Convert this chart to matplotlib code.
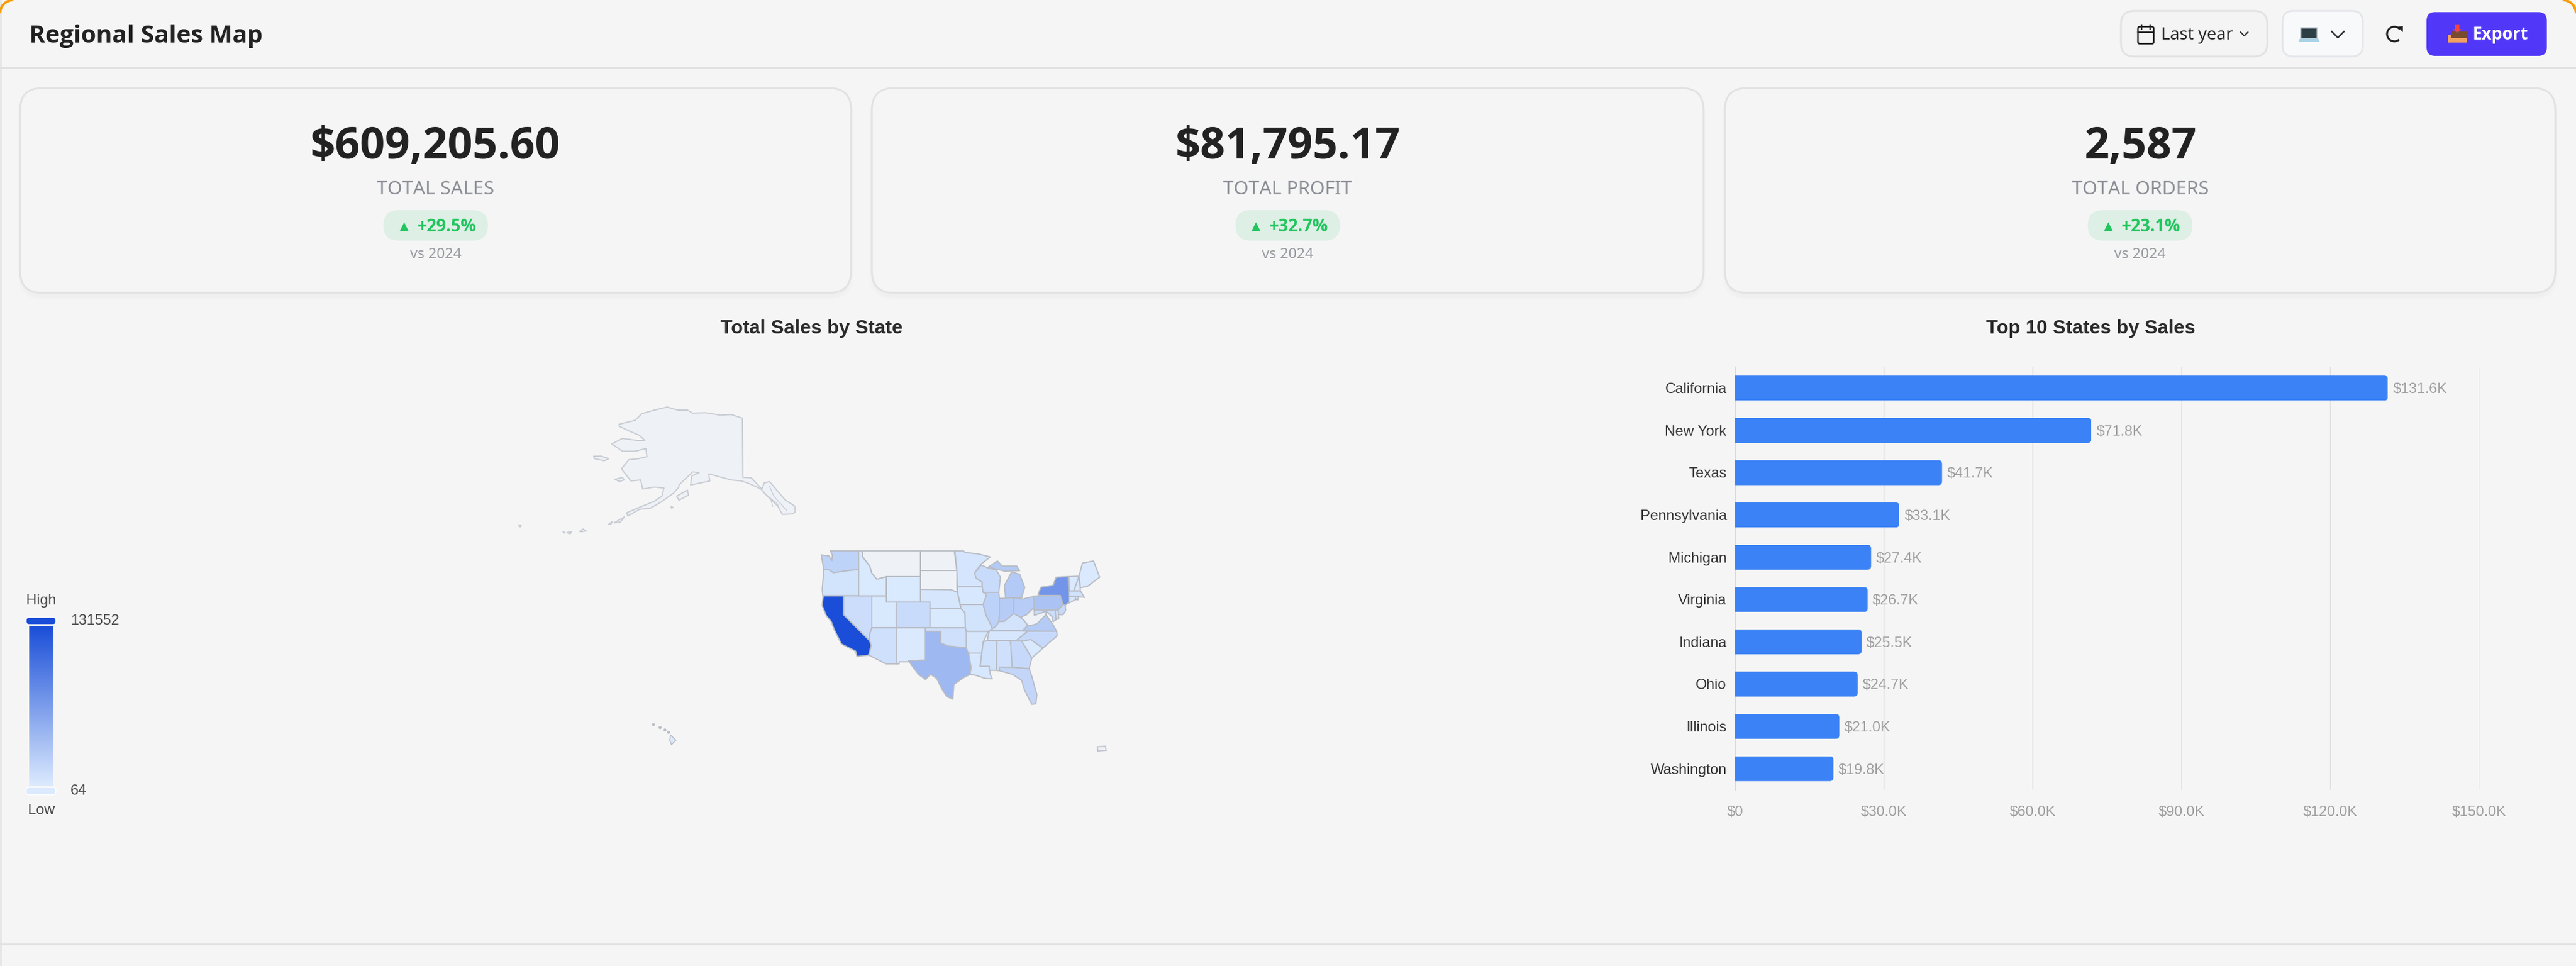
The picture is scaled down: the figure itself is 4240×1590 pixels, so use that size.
import numpy as np
import matplotlib
matplotlib.use("Agg")
import matplotlib.pyplot as plt
from matplotlib.colors import LinearSegmentedColormap, Normalize
from matplotlib.patches import FancyBboxPatch, Polygon, Rectangle, Arc
from matplotlib.transforms import IdentityTransform

# ---------- data ----------
title = "Regional Sales Map"
kpi_values = ["$609,205.60", "$81,795.17", "2,587"]
kpi_labels = ["TOTAL SALES", "TOTAL PROFIT", "TOTAL ORDERS"]
kpi_deltas = ["+29.5%", "+32.7%", "+23.1%"]
kpi_note = "vs 2024"

top_states = ["California", "New York", "Texas", "Pennsylvania", "Michigan",
              "Virginia", "Indiana", "Ohio", "Illinois", "Washington"]
top_sales = [131552, 71800, 41700, 33100, 27400, 26700, 25500, 24700, 21000, 19800]
x_ticks = [0, 30000, 60000, 90000, 120000, 150000]
x_labels = ["$0", "$30.0K", "$60.0K", "$90.0K", "$120.0K", "$150.0K"]

legend_min, legend_max = 64, 131552

state_sales = {
    "CA": 131552, "NY": 71800, "TX": 41700, "PA": 33100, "MI": 27400, "VA": 26700,
    "IN": 25500, "OH": 24700, "IL": 21000, "WA": 19800, "FL": 17000, "GA": 14000,
    "NC": 14000, "WI": 13000, "CO": 13000, "NJ": 14000, "NV": 11000, "AL": 9000,
    "MS": 7500, "AZ": 8500, "OK": 9000, "OR": 6500, "MD": 11000, "DE": 9000,
    "MA": 7000, "MO": 6500, "MN": 4500, "KY": 6000, "TN": 3500, "AR": 4000,
    "NE": 3500, "UT": 2500, "IA": 3000, "KS": 1500, "SC": 1500, "LA": 3000,
    "NM": 900, "WY": 1500, "ID": 1200, "ME": 1000, "NH": 1200, "VT": 900,
    "CT": 3500, "RI": 1500, "HI": 500,
}
no_data_states = ["AK", "MT", "ND", "SD", "WV", "PR"]

# ---------- outlines (in the crop coordinates of each map panel) ----------
conus = {
 "WA": [(95,100),(133,105),(148,128),(150,100),(140,80),(280,80),(280,172),(225,178),(155,188),(130,172),(108,172)],
 "OR": [(108,172),(130,172),(155,188),(225,178),(280,172),(280,302),(103,302),(100,270)],
 "NV": [(205,302),(345,302),(345,460),(333,495),(335,525),(205,395)],
 "CA": [(105,302),(205,302),(205,395),(335,525),(342,548),(330,595),(272,602),(265,575),(195,540),(160,470),(145,430),(120,400),(100,350)],
 "ID": [(280,80),(300,80),(300,110),(335,155),(345,190),(370,220),(416,207),(416,302),(280,302)],
 "MT": [(300,80),(585,80),(585,207),(416,207),(370,220),(345,190),(335,155),(300,110)],
 "WY": [(416,207),(585,207),(585,333),(416,333)],
 "UT": [(345,302),(416,302),(416,333),(466,333),(466,460),(345,460)],
 "CO": [(466,333),(632,333),(632,460),(466,460)],
 "AZ": [(345,460),(466,460),(466,638),(415,638),(330,595),(342,548),(335,525),(333,495)],
 "NM": [(466,460),(610,460),(610,620),(525,622),(525,628),(480,628),(480,638),(466,638)],
 "ND": [(585,80),(752,80),(765,177),(585,177)],
 "SD": [(585,177),(765,177),(765,255),(768,285),(735,272),(585,270)],
 "NE": [(585,270),(735,272),(768,285),(785,365),(632,365),(632,333),(585,333)],
 "KS": [(632,365),(785,365),(805,385),(807,460),(632,460)],
 "OK": [(610,460),(807,460),(812,478),(812,560),(770,555),(720,550),(685,535),(685,478),(610,478)],
 "TX": [(610,478),(685,478),(685,535),(720,550),(770,555),(812,560),(823,590),(835,655),(830,690),(800,705),(750,740),(745,812),(715,800),(690,760),(665,710),(635,690),(610,715),(575,690),(525,622),(610,620)],
 "MN": [(755,80),(797,80),(805,88),(870,95),(930,110),(885,145),(855,185),(860,215),(890,235),(890,257),(768,257),(765,177)],
 "IA": [(768,257),(890,257),(895,285),(912,295),(895,345),(782,345),(768,285)],
 "MO": [(782,345),(895,345),(910,400),(935,450),(940,465),(920,478),(812,478),(807,460),(805,385),(785,365)],
 "AR": [(812,478),(920,478),(895,530),(888,585),(828,585),(823,590),(812,560)],
 "LA": [(828,585),(888,585),(880,650),(925,650),(930,690),(940,712),(905,710),(860,695),(830,690),(835,655),(823,590)],
 "WI": [(885,150),(920,165),(960,175),(980,210),(972,285),(895,285),(890,257),(890,235),(860,215),(852,190)],
 "IL": [(895,285),(972,285),(975,315),(975,400),(972,430),(960,450),(940,465),(935,450),(910,400),(895,345),(912,295)],
 "MI": [(1005,312),(1000,250),(1035,185),(1075,195),(1100,260),(1085,312)],
 "IN": [(975,315),(1045,312),(1045,390),(1000,428),(972,430),(975,400)],
 "OH": [(1045,312),(1090,318),(1145,305),(1145,360),(1110,395),(1080,408),(1045,390)],
 "KY": [(940,465),(960,450),(972,430),(1000,428),(1045,390),(1080,408),(1098,425),(1115,447),(1090,475),(925,475)],
 "TN": [(925,475),(1115,475),(1060,522),(915,522)],
 "MS": [(915,522),(962,522),(960,670),(925,670),(925,650),(880,650),(888,585),(895,530)],
 "AL": [(962,522),(1030,522),(1038,655),(975,655),(975,672),(960,670)],
 "GA": [(1030,522),(1085,525),(1135,610),(1122,662),(1038,655)],
 "FL": [(975,655),(1038,655),(1122,662),(1135,700),(1160,790),(1155,835),(1135,838),(1100,770),(1085,720),(1040,690),(975,672)],
 "SC": [(1085,525),(1130,518),(1190,560),(1135,610)],
 "NC": [(1060,522),(1115,477),(1258,477),(1260,500),(1190,560),(1130,518),(1085,525)],
 "VA": [(1090,475),(1115,447),(1125,450),(1160,440),(1205,395),(1240,445),(1258,477),(1115,475)],
 "WV": [(1080,408),(1110,395),(1145,360),(1148,372),(1148,398),(1205,378),(1205,395),(1160,440),(1125,450),(1115,447),(1098,425)],
 "PA": [(1145,303),(1275,300),(1290,345),(1265,372),(1145,372)],
 "NY": [(1165,295),(1180,260),(1240,250),(1255,210),(1315,207),(1318,300),(1340,320),(1300,348),(1290,345),(1275,300),(1175,300)],
 "NJ": [(1290,345),(1300,348),(1302,375),(1290,395),(1268,395),(1265,372)],
 "MD": [(1148,372),(1250,372),(1255,420),(1240,430),(1235,405),(1205,378),(1148,398)],
 "DE": [(1250,372),(1265,372),(1268,415),(1255,420)],
 "ME": [(1385,140),(1440,130),(1470,210),(1410,255),(1375,262),(1368,205)],
 "NH": [(1368,205),(1375,278),(1342,278)],
 "VT": [(1318,207),(1368,205),(1342,278),(1320,278)],
 "MA": [(1318,278),(1375,278),(1395,310),(1350,305),(1318,305)],
 "CT": [(1318,305),(1350,305),(1352,320),(1318,338)],
 "RI": [(1350,305),(1365,305),(1362,322),(1352,320)],
}
michigan_up = [(920,160),(965,130),(990,155),(1060,155),(1075,178),(1000,180),(960,170)]

alaska_main = [(625,235),(700,215),(730,183),(790,165),(850,150),(900,165),(945,165),(970,180),(1030,178),(1100,190),(1150,187),(1203,205),(1205,497),(1245,500),(1295,555),(1305,525),(1330,518),(1405,610),(1450,640),(1450,670),(1435,678),(1390,680),(1370,640),(1320,590),(1290,555),(1240,530),(1200,515),(1150,510),(1080,490),(1045,480),(1050,515),(960,535),(965,490),(1000,475),(970,470),(905,535),(905,545),(880,575),(820,620),(770,650),(720,655),(665,688),(660,672),(720,645),(790,615),(825,590),(835,550),(790,545),(735,555),(725,510),(680,515),(635,455),(670,410),(715,405),(755,395),(750,355),(700,368),(640,368),(590,332),(640,305),(710,315),(745,315),(720,290),(665,265),(625,245)]
alaska_isles = [
 [(505,393),(540,392),(575,405),(555,415),(510,405)],
 [(605,507),(640,498),(648,510),(625,517)],
 [(895,590),(945,560),(950,585),(905,610)],
 [(600,722),(650,692),(630,718)],
 [(575,728),(592,716),(585,730)],
 [(440,765),(455,752),(470,762),(450,765)],
 [(380,770),(400,765),(395,776)],
 [(362,765),(370,770),(365,773)],
 [(153,732),(165,733),(160,742)],
 [(868,642),(878,645),(870,649)],
]
alaska_inner = [[(1300,570),(1335,600),(1345,640)], [(1330,540),(1350,590),(1385,630),(1410,660)], [(1320,590),(1365,625),(1375,650)]]
hawaii_main = [(125,150),(142,175),(128,197),(122,175)]
hawaii_isles = [(68,95),(90,112),(105,123),(118,135)]
puerto_rico = [(1502,207),(1528,205),(1530,225),(1503,228)]

# ---------- palette ----------
BG = "#f5f5f5"
INK = "#222222"
GREY = "#8c8f96"
LOW, HIGH = "#dbeafe", "#1a4ed8"
NO_DATA = "#eef2f7"
EDGE = "#b8bcc4"
cmap = LinearSegmentedColormap.from_list("sales", [LOW, HIGH])
norm = Normalize(legend_min, legend_max)
SANS = ["Noto Sans", "DejaVu Sans"]
BOLD = ["Open Sans", "Noto Sans", "DejaVu Sans"]
CHART = ["Liberation Sans", "DejaVu Sans"]
PT = 0.72  # px to pt at dpi 100

fig = plt.figure(figsize=(42.4, 15.9), dpi=100, facecolor=BG)
W, H = 4240, 1590

def px_axes(x0, y0, x1, y1, **kw):
    return fig.add_axes([x0 / W, 1 - y1 / H, (x1 - x0) / W, (y1 - y0) / H], **kw)

ui = px_axes(0, 0, W, H)
ui.set_xlim(0, W); ui.set_ylim(H, 0); ui.axis("off")

def rbox(x0, y0, x1, y1, r, fc, ec="none", lw=0, z=1, alpha=None):
    p = FancyBboxPatch((x0 + r, y0 + r), x1 - x0 - 2 * r, y1 - y0 - 2 * r,
                       boxstyle=f"round,pad={r},rounding_size={r}", fc=fc, ec=ec,
                       lw=lw * PT, zorder=z, alpha=alpha)
    ui.add_patch(p)
    return p

def txt(x, y, s, px, color=INK, weight="normal", ha="center", family=SANS, z=5):
    if weight == "bold" and family is SANS:
        family = BOLD
    return ui.text(x, y, s, fontsize=px * PT, color=color, fontweight=weight, ha=ha,
                   va="center_baseline", family=family, zorder=z)

# frame pieces
ui.add_patch(Rectangle((0, 0), 3, H, fc="#e6e6e6", ec="none", zorder=0))
ui.plot([0, W], [111, 111], color="#e1e1e1", lw=3 * PT, zorder=1)
ui.plot([0, W], [1554, 1554], color="#e1e1e1", lw=3 * PT, zorder=1)
ui.add_patch(Arc((22, 22), 44, 44, theta1=180, theta2=270, color="#f59e0b", lw=3, zorder=2))
ui.add_patch(Arc((W - 22, 22), 44, 44, theta1=270, theta2=360, color="#f59e0b", lw=3, zorder=2))

txt(48, 55, title, 40.3, weight="bold", ha="left")

# calendar button
rbox(3491, 18, 3732, 93, 22, "#f4f4f4", "#e2e2e2", 3)
ui.add_patch(FancyBboxPatch((3522, 47), 20, 22, boxstyle="round,pad=3,rounding_size=3", fc="none", ec="#222222", lw=2.6 * PT, zorder=4))
ui.plot([3519, 3545], [53, 53], color="#222222", lw=2.4 * PT, zorder=4)
ui.plot([3525, 3525], [41, 48], color="#222222", lw=2.4 * PT, zorder=4)
ui.plot([3539, 3539], [41, 48], color="#222222", lw=2.4 * PT, zorder=4)
txt(3557, 54, "Last year", 28, color="#2a2a2a", ha="left")
ui.plot([3688, 3694, 3700], [53, 59, 53], color="#333333", lw=2.2 * PT, zorder=4)

# device button
rbox(3757, 18, 3889, 93, 18, "#f8f9fa", "#e4e6ea", 3)
ui.add_patch(Rectangle((3787, 46), 27, 18, fc="#2f3f46", ec="#b7c7d0", lw=1.5, zorder=4))
ui.add_patch(Polygon([(3785, 64), (3816, 64), (3818, 69), (3783, 69)], fc="#a9d3e8", ec="none", zorder=4))
ui.plot([3838, 3848, 3858], [52, 62, 52], color="#333333", lw=2.6 * PT, zorder=4)

# refresh
ui.add_patch(Arc((3941, 56), 24, 24, theta1=50, theta2=320, color="#222222", lw=3.2 * PT, zorder=4))
ui.add_patch(Polygon([(3946, 44), (3955, 43), (3955, 53)], fc="#222222", ec="none", zorder=4))

# export button
rbox(3994, 20, 4192, 92, 14, "#5138f8", z=2)
ui.add_patch(Polygon([(4036, 58), (4042, 52), (4056, 52), (4060, 58), (4060, 70), (4029, 70), (4029, 58)], fc="#f4a261", ec="none", zorder=4))
ui.add_patch(Rectangle((4035, 52), 27, 11, fc="#7a4a30", ec="none", zorder=4))
ui.add_patch(Polygon([(4041, 40), (4048, 40), (4048, 48), (4052, 48), (4044.5, 54), (4037, 48), (4041, 48)], fc="#ef4444", ec="none", zorder=5))
txt(4070, 54, "Export", 28, color="white", weight="bold", ha="left")

# KPI cards
card_x = [(33, 1401), (1435, 2804), (2839, 4206)]
for (x0, x1), v, lab, d in zip(card_x, kpi_values, kpi_labels, kpi_deltas):
    for k in range(6):
        rbox(x0 - 4 + k, 149 + k, x1 + 4 - k, 494 - k, 40, "#000000", z=1, alpha=0.004)
    rbox(x0, 145, x1, 482, 36, BG, "#e2e2e2", 3, z=2)
    cx = (x0 + x1) / 2
    txt(cx, 234, v, 72, weight="bold")
    txt(cx, 309, lab, 31.5, color=GREY)
    rbox(cx - 86, 346, cx + 86, 396, 25, "#deefe5", z=3)
    txt(cx - 52, 370, "\u25b2", 19, color="#22c55e", family=["DejaVu Sans"])
    txt(cx + 18, 370, d, 28, color="#22c55e", weight="bold")
    txt(cx, 416, kpi_note, 24, color="#9a9ca2")

# section titles
txt(1336, 538, "Total Sales by State", 32, color="#2b2b2b", weight="bold", family=CHART)
txt(3441, 538, "Top 10 States by Sales", 32, color="#2b2b2b", weight="bold", family=CHART)

# ---------- map ----------
def color_of(code):
    if code in no_data_states:
        return NO_DATA
    return cmap(norm(state_sales[code]))

map_lw = 2.0 * PT
ax_us = px_axes(1320, 880, 1840, 1200); ax_us.set_xlim(0, 1560); ax_us.set_ylim(960, 0); ax_us.axis("off")
for code, pts in conus.items():
    ax_us.add_patch(Polygon(pts, fc=color_of(code), ec=EDGE, lw=map_lw, joinstyle="round"))
ax_us.add_patch(Polygon(michigan_up, fc=color_of("MI"), ec=EDGE, lw=map_lw, joinstyle="round"))

ax_ak = px_axes(800, 620, 1350, 920); ax_ak.set_xlim(0, 1568); ax_ak.set_ylim(900, 0); ax_ak.axis("off")
ax_ak.add_patch(Polygon(alaska_main, fc=color_of("AK"), ec="#c8ccd3", lw=map_lw, joinstyle="round"))
for pts in alaska_isles:
    ax_ak.add_patch(Polygon(pts, fc=color_of("AK"), ec="#c8ccd3", lw=map_lw, joinstyle="round"))
for pts in alaska_inner:
    ax_ak.plot(*zip(*pts), color="#c8ccd3", lw=1.0)

ax_hi = px_axes(1040, 1160, 1840, 1590); ax_hi.set_xlim(0, 1568); ax_hi.set_ylim(1290, 0); ax_hi.axis("off")
ax_hi.add_patch(Polygon(hawaii_main, fc=color_of("HI"), ec=EDGE, lw=map_lw * 0.8))
ax_hi.scatter(*zip(*hawaii_isles), s=12, color=EDGE, linewidths=0)
ax_hi.add_patch(Polygon(puerto_rico, fc=color_of("PR"), ec="#c0c4cb", lw=map_lw))

# legend
ax_leg = px_axes(48, 1030, 88, 1293)
ax_leg.imshow(np.linspace(1, 0, 256)[:, None], cmap=cmap, aspect="auto", vmin=0, vmax=1)
ax_leg.axis("off")
rbox(43, 1016, 92, 1028, 5, HIGH, "white", 1.5, z=3)
rbox(43, 1296, 92, 1308, 5, LOW, "white", 1.5, z=3)
txt(68, 987, "High", 24, color="#4a4a4a", family=CHART)
txt(68, 1332, "Low", 24, color="#4a4a4a", family=CHART)
txt(116, 1020, str(legend_max), 24, color="#4a4a4a", ha="left", family=CHART)
txt(116, 1300, str(legend_min), 24, color="#4a4a4a", ha="left", family=CHART)

# ---------- bar chart ----------
ax = px_axes(2856, 604, 4081, 1300)
ax.patch.set_alpha(0)
ypos = np.arange(len(top_states))
ax.set_xlim(0, 150000)
ax.set_ylim(len(top_states) - 0.5, -0.5)
bars = ax.barh(ypos, top_sales, height=0.59, color="#3b82f6", zorder=3)
fig.canvas.draw()
for b in bars:
    (ax0, ay0), (ax1, ay1) = ax.transData.transform([(b.get_x(), b.get_y()), (b.get_x() + b.get_width(), b.get_y() + b.get_height())])
    lo, hi = min(ay0, ay1), max(ay0, ay1)
    r = 6
    clip = FancyBboxPatch((ax0 - 20 + r, lo + r), ax1 - ax0 + 20 - 2 * r, hi - lo - 2 * r,
                          boxstyle=f"round,pad={r},rounding_size={r}", transform=IdentityTransform())
    b.set_clip_path(clip)
for v, y in zip(top_sales, ypos):
    ax.annotate(f"${v / 1000:.1f}K", (v, y), xytext=(8 * PT, 0), textcoords="offset points",
                va="center_baseline", ha="left", fontsize=24 * PT, color="#a0a0a0", family=CHART, zorder=4)
ax.set_xticks(x_ticks, x_labels, fontsize=24 * PT, color="#a0a0a0", family=CHART)
ax.set_yticks(ypos, top_states, fontsize=24 * PT, color="#333333", family=CHART)
ax.tick_params(axis="both", length=0)
ax.tick_params(axis="x", pad=26 * PT)
ax.tick_params(axis="y", pad=14 * PT)
ax.grid(axis="x", color="#e2e2e2", lw=2 * PT, zorder=0)
for s in ["top", "right", "bottom"]:
    ax.spines[s].set_visible(False)
ax.spines["left"].set_color("#d8d8d8")
ax.spines["left"].set_linewidth(2 * PT)
ax.set_axisbelow(True)

fig.savefig("out.png", dpi=100, facecolor=BG)
